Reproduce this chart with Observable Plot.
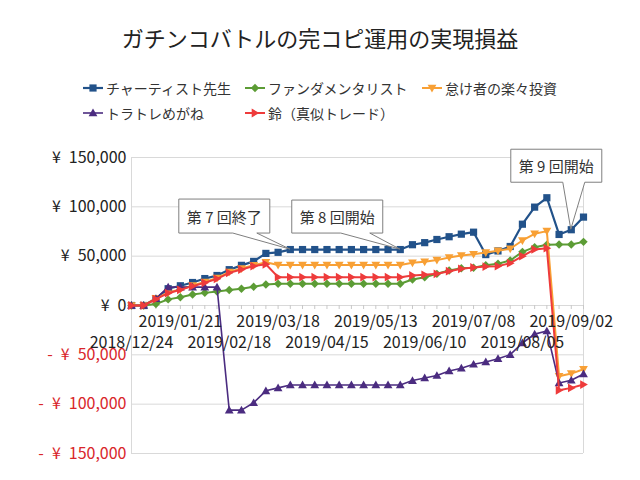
<!DOCTYPE html>
<html><head><meta charset="utf-8">
<script src="https://cdn.jsdelivr.net/npm/d3@7"></script>
<script src="https://cdn.jsdelivr.net/npm/@observablehq/plot@0.6"></script>
<style>
body{margin:0;background:#fff;font-family:"Noto Sans CJK JP","Noto Sans",sans-serif;}
#wrap{position:relative;width:640px;height:480px;overflow:hidden;}
#title{position:absolute;left:0;top:22px;width:640px;text-align:center;font-size:22px;line-height:30px;color:#222;}
.leg{position:absolute;font-size:14px;line-height:20px;color:#333;white-space:nowrap;display:flex;align-items:center;}
.leg svg{margin-right:3px;}
#chart{position:absolute;left:0;top:130px;}
</style></head>
<body><div id="wrap"><div id="title">ガチンコバトルの完コピ運用の実現損益</div><div id="legend"></div><div id="chart"></div></div>
<script>
const dates = ["2018-12-24","2018-12-31","2019-01-07","2019-01-14","2019-01-21","2019-01-28","2019-02-04","2019-02-11","2019-02-18","2019-02-25","2019-03-04","2019-03-11","2019-03-18","2019-03-25","2019-04-01","2019-04-08","2019-04-15","2019-04-22","2019-04-29","2019-05-06","2019-05-13","2019-05-20","2019-05-27","2019-06-03","2019-06-10","2019-06-17","2019-06-24","2019-07-01","2019-07-08","2019-07-15","2019-07-22","2019-07-29","2019-08-05","2019-08-12","2019-08-19","2019-08-26","2019-09-02","2019-09-09"];
const chartist = [0,0,7000,17000,20000,23300,27300,30400,36300,40700,44700,52800,53900,56700,56700,56700,56700,56700,56700,56700,56700,56700,56700,61600,63700,66900,69700,72300,74300,51600,55300,59800,82400,99700,109200,72000,76800,89600];
const fundamentalist = [0,0,1500,6200,8400,11100,12800,14200,15700,17000,19000,21300,22000,22000,22000,22000,22000,22000,22000,22000,22000,22000,22000,26400,28700,32100,35500,37800,38200,40900,42300,45600,54400,59100,61500,61800,61800,64500];
const lazy = [0,0,7400,13000,16500,20300,23800,27800,34000,37500,40800,43900,41000,41000,41000,41000,41000,41000,41000,41000,41000,41000,41000,43300,44300,46000,48700,50700,52000,53700,55500,57500,65900,72700,75400,-71700,-69000,-64600];
const toratore = [0,0,7000,18600,18600,18600,18600,18600,-106000,-106000,-98600,-86500,-83500,-80500,-80500,-80500,-80500,-80500,-80500,-80500,-80500,-80500,-80500,-76100,-73400,-71000,-66300,-63600,-59600,-57200,-53900,-49800,-38000,-29000,-25900,-78500,-75800,-69400];
const suzu = [0,0,6400,12500,15900,19600,23000,27000,33100,36500,39900,41800,28700,28700,28700,28700,28700,28700,28700,28700,28700,28700,28700,30400,31100,32100,34800,37200,38500,39500,39900,42900,50000,56800,58100,-85900,-83500,-80100];
const seriesNames = ["チャーティスト先生","ファンダメンタリスト","怠け者の楽々投資","トラトレめがね","鈴（真似トレード）"];
const seriesColors = ["#22528a","#5c9c35","#f8a035","#4b2c80","#ee3b3b"];
const yTicks = [150000,100000,50000,0,-50000,-100000,-150000];
const xTicksRow1 = ["2019-01-21","2019-03-18","2019-05-13","2019-07-08","2019-09-02"];
const xTicksRow2 = ["2018-12-24","2019-02-18","2019-04-15","2019-06-10","2019-08-05"];
const calloutLabels = ["第 7 回終了","第 8 回開始","第 9 回開始"];
const calloutDates = ["2019-03-25","2019-05-27","2019-09-02"];

const parse = d3.utcParse("%Y-%m-%d");
const allSeries = [chartist, fundamentalist, lazy, toratore, suzu];

function mk(pointsFn){
  return {draw(ctx, size){
    const r = Math.sqrt(size/Math.PI);
    const p = pointsFn(r);
    ctx.moveTo(p[0][0],p[0][1]);
    for(let i=1;i<p.length;i++) ctx.lineTo(p[i][0],p[i][1]);
    ctx.closePath();
  }};
}
const symSquare = mk(r=>[[-r,-r],[r,-r],[r,r],[-r,r]]);
const symDiamond = mk(r=>[[0,-r],[r,0],[0,r],[-r,0]]);
const symDown = mk(r=>[[-r,-0.75*r],[r,-0.75*r],[0,r]]);
const symUp = mk(r=>[[-r,0.75*r],[r,0.75*r],[0,-r]]);
const symRight = mk(r=>[[-0.75*r,-r],[-0.75*r,r],[r,0]]);
const symbols = [symSquare, symDiamond, symDown, symUp, symRight];
const radii = [3.6, 4.2, 4.4, 4.4, 4.4];
const widths = [2.2, 2, 2, 1.6, 2];

const marks = [];
marks.push(Plot.ruleY(yTicks, {y: d=>d, stroke:"#d9d9d9", strokeWidth:1}));
marks.push(Plot.ruleX([dates[0], dates[dates.length-1]], {x: d=>parse(d), stroke:"#d9d9d9", strokeWidth:1}));
marks.push(Plot.ruleX(dates, {x: d=>parse(d), y1: ()=>0, y2: ()=>0, insetBottom:-4, stroke:"#c8c8c8"}));

allSeries.forEach((vals, k)=>{
  const rows = vals.map((v,i)=>({date: parse(dates[i]), value: v}));
  marks.push(Plot.line(rows, {x:"date", y:"value", stroke: seriesColors[k], strokeWidth: widths[k], curve:"linear"}));
  marks.push(Plot.dot(rows, {x:"date", y:"value", symbol: symbols[k], r: radii[k], fill: seriesColors[k], stroke:"none"}));
});

const sp = "\u2002";
const fmt = d => d === 0 ? "¥" + sp + "0" : (d < 0 ? "-" + sp + "¥" + sp : "¥" + sp) + d3.format(",")(Math.abs(d));
const x0 = parse(dates[0]);
marks.push(Plot.text(yTicks.filter(d=>d>=0), {x: ()=>x0, y: d=>d, text: fmt, textAnchor:"end", dx:-5, fill:"#222", fontSize:16}));
marks.push(Plot.text(yTicks.filter(d=>d<0), {x: ()=>x0, y: d=>d, text: fmt, textAnchor:"end", dx:-5, fill:"#d9262b", fontSize:16}));
const xfmt = d => d.replace(/-/g,"/");
marks.push(Plot.text(xTicksRow1, {x: d=>parse(d), y: ()=>0, text: xfmt, dy:16, fill:"#222", fontSize:16}));
marks.push(Plot.text(xTicksRow2, {x: d=>parse(d), y: ()=>0, text: xfmt, dy:37, fill:"#222", fontSize:16}));

const plot = Plot.plot({
  width: 640, height: 350,
  marginLeft: 131, marginRight: 57, marginTop: 27, marginBottom: 27,
  x: {type:"utc", domain:[parse(dates[0]), parse(dates[dates.length-1])], axis:null},
  y: {domain:[-150000,150000], axis:null},
  style: {fontFamily:'"Noto Sans CJK JP","Noto Sans",sans-serif', background:"#fff", overflow:"visible"},
  marks
});
document.getElementById("chart").appendChild(plot);

const xs = plot.scale("x"), ys = plot.scale("y");
const geo = [
  {l:-111, r:-20, t:-50, b:-16, bl:-57, br:-33},
  {l:-108, r:-17, t:-49, b:-16, bl:-59, br:-30},
  {l:-60, r:31, t:-80, b:-47, bl:-8, br:14}
];
const svg = d3.select(plot);
calloutDates.forEach((d,k)=>{
  const idx = dates.indexOf(d);
  const ax = xs.apply(parse(d)), ay = ys.apply(chartist[idx]);
  const g = geo[k];
  const L=ax+g.l, R=ax+g.r, T=ay+g.t, B=ay+g.b;
  const path = `M${L},${T}H${R}V${B}H${ax+g.br}L${ax},${ay}L${ax+g.bl},${B}H${L}Z`;
  svg.append("path").attr("d", path).attr("fill","#fff").attr("stroke","#7f7f7f").attr("stroke-width",1);
  svg.append("text").attr("x",(L+R)/2).attr("y",(T+B)/2).attr("text-anchor","middle").attr("dominant-baseline","central")
    .attr("font-size",15).attr("fill","#333").text(calloutLabels[k]);
});

const legPos = [[83,78],[245,78],[422,78],[83,103],[245,103]];
const leg = document.getElementById("legend");
seriesNames.forEach((name,k)=>{
  const div = document.createElement("div");
  div.className = "leg";
  div.style.left = legPos[k][0]+"px"; div.style.top = legPos[k][1]+"px";
  const s = d3.create("svg").attr("width",20).attr("height",12);
  s.append("line").attr("x1",0).attr("x2",20).attr("y1",6).attr("y2",6).attr("stroke",seriesColors[k]).attr("stroke-width",widths[k]);
  const r = radii[k];
  s.append("path").attr("transform","translate(10,6)").attr("fill",seriesColors[k])
    .attr("d", d3.symbol(symbols[k], r*r*Math.PI)());
  div.appendChild(s.node());
  const t = document.createElement("span"); t.textContent = name; div.appendChild(t);
  leg.appendChild(div);
});
</script></body></html>
